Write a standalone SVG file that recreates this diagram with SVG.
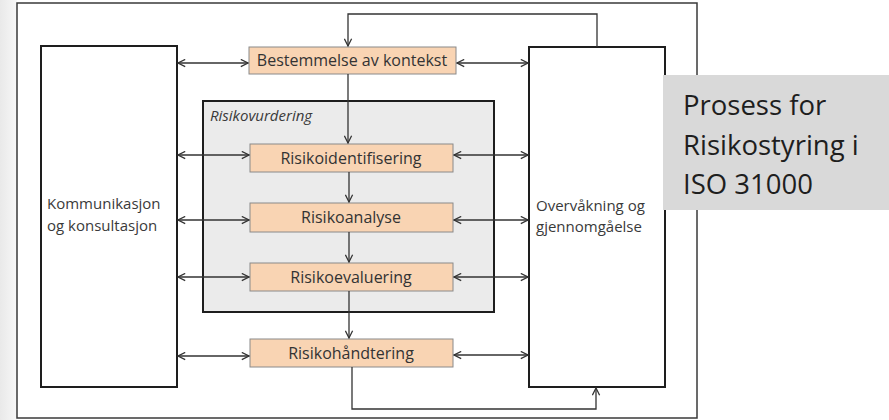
<svg xmlns="http://www.w3.org/2000/svg" width="889" height="420" viewBox="0 0 889 420">
  <style>
    .frame { fill: #ffffff; stroke: #3a3a3a; stroke-width: 1.5; }
    .side { fill: #ffffff; stroke: #1e1e1e; stroke-width: 2; }
    .group { fill: #ebebeb; stroke: #1e1e1e; stroke-width: 2; }
    .step { fill: #f9d4b3; stroke: #8a8a8a; stroke-width: 1; }
    .lbl { font-family: "Open Sans", "Noto Sans", sans-serif; font-size: 15px; fill: #3a3a3a; }
    .steplbl { font-family: "Open Sans", "Noto Sans", sans-serif; font-size: 16px; fill: #333333; text-anchor: middle; }
    .conn { fill: none; stroke: #333333; stroke-width: 1.3; }
    .title { font-family: "Open Sans", "Noto Sans", sans-serif; font-size: 27.5px; fill: #1e1e1e; }
  </style>
  <defs>
    <linearGradient id="edge" x1="0" y1="0" x2="1" y2="0">
      <stop offset="0" stop-color="#e9e9e9"/>
      <stop offset="1" stop-color="#f7f7f7"/>
    </linearGradient>
    <marker id="head" viewBox="0 0 10 10" refX="9" refY="5" markerWidth="9" markerHeight="9" markerUnits="userSpaceOnUse" orient="auto-start-reverse">
      <polyline points="1,1 9,5 1,9" fill="none" stroke="#333333" stroke-width="1.4"/>
    </marker>
  </defs>

  <rect x="0" y="0" width="889" height="420" fill="#ffffff"/>
  <rect x="0" y="0" width="17" height="420" fill="url(#edge)"/>

  <!-- outer frame -->
  <rect class="frame" x="17" y="3" width="680" height="415"/>

  <g id="kommunikasjon">
    <rect class="side" x="41" y="46" width="136" height="341"/>
    <text class="lbl" x="47" y="209">Kommunikasjon</text>
    <text class="lbl" x="47" y="231">og konsultasjon</text>
  </g>

  <g id="overvakning">
    <rect class="side" x="529" y="47" width="136" height="340"/>
    <text class="lbl" x="536" y="211">Overvåkning og</text>
    <text class="lbl" x="536" y="232">gjennomgåelse</text>
  </g>

  <g id="risikovurdering">
    <rect class="group" x="203" y="101" width="291" height="211"/>
    <text class="lbl" x="210" y="121" font-style="italic" font-size="16">Risikovurdering</text>
  </g>

  <g id="kontekst">
    <rect class="step" x="249" y="47" width="207" height="27"/>
    <text class="steplbl" x="352" y="66">Bestemmelse av kontekst</text>
  </g>

  <g id="identifisering">
    <rect class="step" x="250" y="144" width="203" height="28"/>
    <text class="steplbl" x="351" y="164">Risikoidentifisering</text>
  </g>

  <g id="analyse">
    <rect class="step" x="250" y="203" width="203" height="29"/>
    <text class="steplbl" x="351" y="223">Risikoanalyse</text>
  </g>

  <g id="evaluering">
    <rect class="step" x="250" y="263" width="203" height="28"/>
    <text class="steplbl" x="351" y="283">Risikoevaluering</text>
  </g>

  <g id="handtering">
    <rect class="step" x="250" y="339" width="203" height="28"/>
    <text class="steplbl" x="351" y="359">Risikohåndtering</text>
  </g>

  <g id="connectors">
    <!-- feedback loops -->
    <polyline class="conn" points="597,47 597,14 348,14 348,46" marker-end="url(#head)"/>
    <polyline class="conn" points="352,367 352,409 596,409 596,388" marker-end="url(#head)"/>
    <!-- main flow -->
    <line class="conn" x1="348" y1="74" x2="348" y2="143" marker-end="url(#head)"/>
    <line class="conn" x1="349" y1="172" x2="349" y2="202" marker-end="url(#head)"/>
    <line class="conn" x1="349" y1="232" x2="349" y2="262" marker-end="url(#head)"/>
    <line class="conn" x1="349" y1="291" x2="349" y2="338" marker-end="url(#head)"/>
    <!-- communication links -->
    <line class="conn" x1="178" y1="63" x2="248" y2="63" marker-start="url(#head)" marker-end="url(#head)"/>
    <line class="conn" x1="178" y1="155" x2="249" y2="155" marker-start="url(#head)" marker-end="url(#head)"/>
    <line class="conn" x1="178" y1="220" x2="249" y2="220" marker-start="url(#head)" marker-end="url(#head)"/>
    <line class="conn" x1="178" y1="277" x2="249" y2="277" marker-start="url(#head)" marker-end="url(#head)"/>
    <line class="conn" x1="178" y1="356" x2="249" y2="356" marker-start="url(#head)" marker-end="url(#head)"/>
    <!-- monitoring links -->
    <line class="conn" x1="457" y1="63" x2="528" y2="63" marker-start="url(#head)" marker-end="url(#head)"/>
    <line class="conn" x1="454" y1="155" x2="528" y2="155" marker-start="url(#head)" marker-end="url(#head)"/>
    <line class="conn" x1="454" y1="220" x2="528" y2="220" marker-start="url(#head)" marker-end="url(#head)"/>
    <line class="conn" x1="454" y1="277" x2="528" y2="277" marker-start="url(#head)" marker-end="url(#head)"/>
    <line class="conn" x1="454" y1="355" x2="528" y2="355" marker-start="url(#head)" marker-end="url(#head)"/>
  </g>

  <g id="tittel">
    <rect x="663" y="75" width="226" height="135" fill="#d9d9d9"/>
    <text class="title" x="683" y="115">Prosess for</text>
    <text class="title" x="683" y="155">Risikostyring i</text>
    <text class="title" x="683" y="194">ISO 31000</text>
  </g>
</svg>
